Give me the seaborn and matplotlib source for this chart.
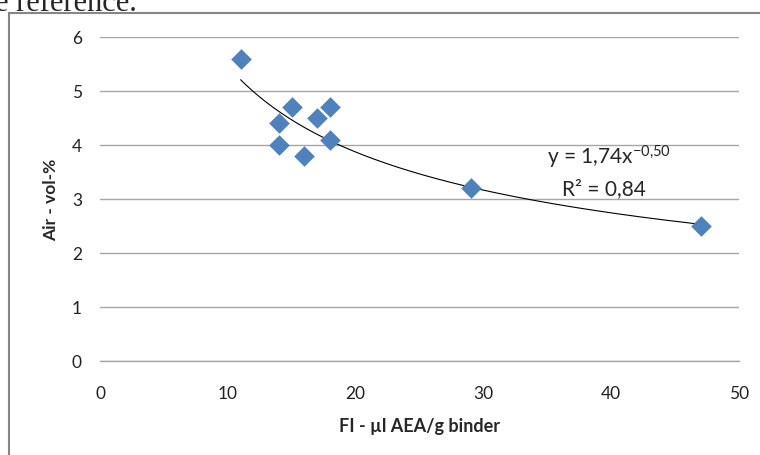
import numpy as np
import pandas as pd
import seaborn as sns
import matplotlib.pyplot as plt
from matplotlib.patches import Rectangle

# data
fi_values = [11, 14, 14, 15, 16, 17, 18, 18, 29, 47]
air_values = [5.6, 4.4, 4.0, 4.7, 3.8, 4.5, 4.7, 4.1, 3.2, 2.5]
x_ticks = [0, 10, 20, 30, 40, 50]
y_ticks = [0, 1, 2, 3, 4, 5, 6]
equation_text = "y = 1,74x$^{-0{,}50}$"
r2_text = "R² = 0,84"
x_label = "FI - µl AEA/g binder"
y_label = "Air - vol-%"

df = pd.DataFrame({"fi": fi_values, "air": air_values})

sns.set_style("white")
plt.rcParams['font.family'] = ['Lato', 'DejaVu Sans']
plt.rcParams['mathtext.fontset'] = 'custom'
plt.rcParams['mathtext.rm'] = 'Lato'
plt.rcParams['mathtext.it'] = 'Lato'
plt.rcParams['mathtext.default'] = 'regular'

fig = plt.figure(figsize=(7.6, 4.56), dpi=100)
ax = fig.add_axes([100 / 760, 1 - 362 / 456, 639 / 760, 324 / 456])

# power trendline fitted in log-log space
b, log_a = np.polyfit(np.log(df["fi"]), np.log(df["air"]), 1)
trend_x = np.linspace(df["fi"].min(), df["fi"].max(), 200)
trend_y = np.exp(log_a) * trend_x ** b
sns.lineplot(x=trend_x, y=trend_y, ax=ax, color="black", linewidth=0.8, zorder=2)

sns.scatterplot(data=df, x="fi", y="air", ax=ax, marker="D", s=110,
                color="#4F81BD", edgecolor="#4F81BD", linewidth=0, zorder=3)

ax.set_xlim(0, 50)
ax.set_ylim(0, 6)
ax.set_xticks(x_ticks)
ax.set_yticks(y_ticks)
ax.tick_params(axis="x", length=0, pad=17, labelsize=12.5, colors="#222222")
ax.tick_params(axis="y", length=0, pad=13, labelsize=12.5, colors="#222222")
ax.yaxis.grid(True, color="#A6A6A6", linewidth=1.0)
ax.xaxis.grid(False)
for side in ["left", "right", "top"]:
    ax.spines[side].set_visible(False)
ax.spines["bottom"].set_color("#A6A6A6")
ax.spines["bottom"].set_linewidth(1.0)

ax.set_xlabel(x_label, fontsize=13, fontweight="bold", labelpad=12)
ax.set_ylabel(y_label, fontsize=12.5, fontweight="bold", labelpad=9)

ax.text(39.8, 3.78, equation_text, fontsize=15, ha="center", va="center")
ax.text(39.4, 3.2, r2_text, fontsize=15, ha="center", va="center")

# outer chart frame (continues past the right and bottom edges)
fig.patches.append(Rectangle((8.5 / 760, -0.1), 1.2, 1.1 - 13.5 / 456,
                             transform=fig.transFigure, fill=False,
                             edgecolor="#868686", linewidth=1.5))

# clipped document text above the chart
fig.text(-0.006, 1 - 11 / 456, "e reference.", fontsize=22,
         family=["Liberation Serif", "DejaVu Serif"], va="baseline", ha="left")

fig.savefig("out.png", dpi=100)
